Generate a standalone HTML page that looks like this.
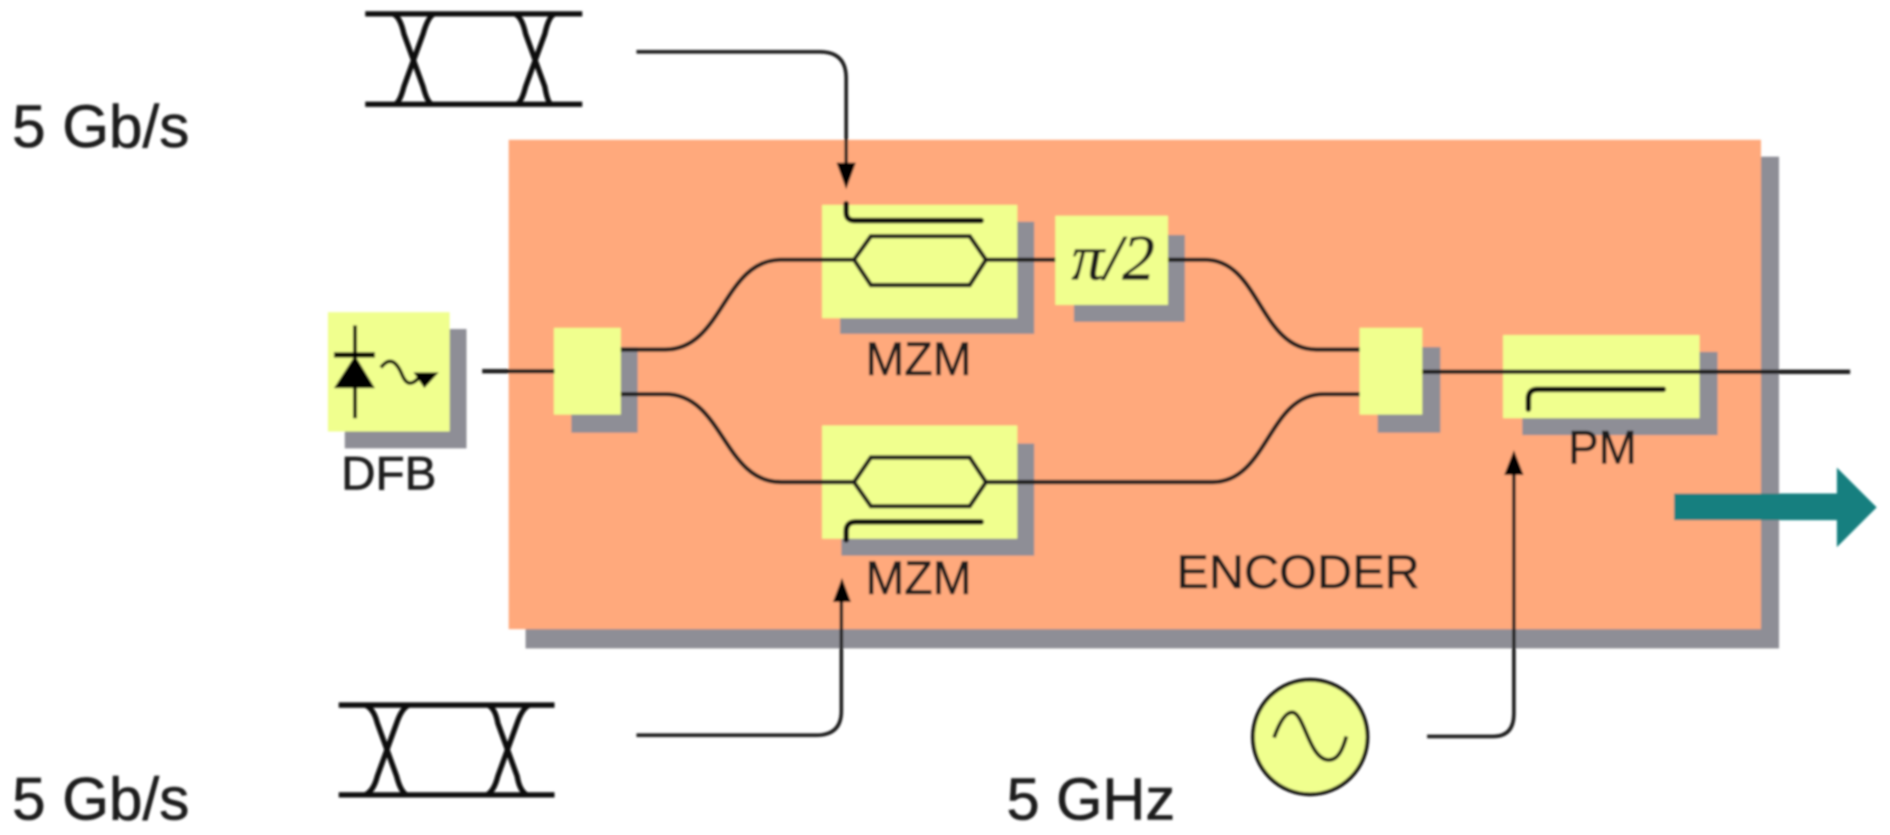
<!DOCTYPE html>
<html>
<head>
<meta charset="utf-8">
<style>
html,body{margin:0;padding:0;background:#fff;width:1890px;height:835px;overflow:hidden}
svg{display:block}
text{font-family:"Liberation Sans",sans-serif;fill:#1a1a1a;stroke:#1a1a1a;stroke-width:0.5}
</style>
</head>
<body>
<svg width="1890" height="835" viewBox="0 0 1568 692.8" xmlns="http://www.w3.org/2000/svg">
<defs><filter id="b" x="-2%" y="-2%" width="104%" height="104%"><feGaussianBlur stdDeviation="0.9"/></filter></defs>
<g filter="url(#b)">
<!-- encoder -->
<rect x="436" y="130" width="1040" height="408" fill="#8e8e96"/>
<rect x="422" y="116" width="1039" height="406" fill="#ffa97c"/>

<!-- DFB -->
<rect x="286" y="273" width="101" height="99" fill="#8e8e96"/>
<rect x="272" y="259" width="101" height="99" fill="#f0ff8e"/>
<path d="M294.5 270V347" stroke="#000" stroke-width="3.2" fill="none"/>
<path d="M277 294.5H311" stroke="#000" stroke-width="4.5" fill="none"/>
<path d="M294.5 295L311 322H277Z" fill="#000"/>
<path d="M316 305C324 294 330 302 334 312C338 321 343 318 347 314" stroke="#000" stroke-width="3" fill="none"/>
<path d="M343 309H364L352 322Z" fill="#000"/>
<text x="283" y="406" font-size="39" textLength="79" lengthAdjust="spacingAndGlyphs">DFB</text>

<!-- shadows -->
<rect x="474" y="288" width="55" height="71" fill="#8e8e96"/>
<rect x="697" y="184" width="161" height="93" fill="#8e8e96"/>
<rect x="698" y="368" width="160" height="93" fill="#8e8e96"/>
<rect x="891" y="195" width="92" height="72" fill="#8e8e96"/>
<rect x="1143" y="288" width="52" height="71" fill="#8e8e96"/>
<rect x="1263" y="292" width="162" height="69" fill="#8e8e96"/>

<!-- boxes -->
<rect x="459.5" y="272" width="55.5" height="72" fill="#f0ff8e"/>
<rect x="682" y="170" width="162" height="94" fill="#f0ff8e"/>
<rect x="682" y="353" width="162" height="94" fill="#f0ff8e"/>
<rect x="875.5" y="179" width="93.5" height="74" fill="#f0ff8e"/>
<rect x="1128" y="272" width="52" height="72" fill="#f0ff8e"/>
<rect x="1247" y="278" width="163" height="69" fill="#f0ff8e"/>

<!-- fibers -->
<g stroke="#1a1a1a" stroke-width="3.6" fill="none">
<path d="M400 308H460"/>
<path d="M515 290H552C600 290 600 215.5 648 215.5H708"/>
<path d="M515 327H552C600 327 600 400 648 400H708"/>
<path d="M708.5 215.5L722.5 196H804.5L818 215.5L804.5 236.5H722.5Z"/>
<path d="M708.5 400L722.5 379.5H804.5L818 400L804.5 420H722.5Z"/>
<path d="M818 215.5H875.5"/>
<path d="M969 215.5H1000C1045 215.5 1045 290 1092 290H1128"/>
<path d="M818 400H1006C1052 400 1052 327 1098 327H1128"/>
<path d="M1180 308.5H1535"/>
</g>

<!-- electrodes -->
<g stroke="#0a0a0a" stroke-width="4.6" fill="none" stroke-linecap="round">
<path d="M702 169V176Q702 183 709 183H814"/>
<path d="M702 448V441Q702 433 710 433H814"/>
<path d="M1268 339.5V331Q1268 323 1276 323H1380"/>
</g>

<!-- control arrows -->
<g stroke="#1a1a1a" stroke-width="3" fill="none">
<path d="M528 43H680Q702 43 702 65V140"/>
<path d="M528 610H677Q698 610 698 590V495"/>
<path d="M1184 611H1239Q1256 611 1256 592V390"/>
</g>
<path d="M694 135H710L702 157Z" fill="#000"/>
<path d="M691 499.5H706L698.5 479.5Z" fill="#000"/>
<path d="M1248 394H1264L1256 373.5Z" fill="#000"/>

<!-- labels -->
<text x="718" y="311" font-size="39" textLength="88" lengthAdjust="spacingAndGlyphs">MZM</text>
<text x="718" y="493" font-size="39" textLength="88" lengthAdjust="spacingAndGlyphs">MZM</text>
<text x="1301" y="384.5" font-size="39" textLength="57" lengthAdjust="spacingAndGlyphs">PM</text>
<text x="976" y="488" font-size="39.5" textLength="202" lengthAdjust="spacingAndGlyphs">ENCODER</text>
<text x="889" y="232" font-size="54" textLength="69" lengthAdjust="spacingAndGlyphs" style="font-family:'Liberation Serif',serif;font-style:italic">π/2</text>
<text x="10" y="122" font-size="50" textLength="147" lengthAdjust="spacingAndGlyphs">5 Gb/s</text>
<text x="10" y="680" font-size="50" textLength="147" lengthAdjust="spacingAndGlyphs">5 Gb/s</text>
<text x="835" y="680" font-size="49.5" textLength="140" lengthAdjust="spacingAndGlyphs">5 GHz</text>

<!-- eye top -->
<g stroke="#0a0a0a" stroke-width="4.4" fill="none">
<path d="M303 11.5H483M303 86.5H483"/>
<path d="M326 11.5Q332 14 335 28L351 72Q354 84 358 86.5"/>
<path d="M360 11.5Q355 14 351 28L335 72Q332 84 328 86.5"/>
<path d="M427 11.5Q433 14 436 28L452 72Q454 84 457 86.5"/>
<path d="M460 11.5Q455 14 452 28L436 72Q433 84 429 86.5"/>
</g>
<!-- eye bottom -->
<g stroke="#0a0a0a" stroke-width="4.4" fill="none">
<path d="M281 585H460M281 659.5H460"/>
<path d="M303 585Q310 588 313 600L329 644Q332 656 337 659.5"/>
<path d="M339 585Q333 588 329 600L313 644Q310 656 303 659.5"/>
<path d="M405 585Q411 588 413 600L429 644Q431 656 437 659.5"/>
<path d="M439 585Q433 588 429 600L413 644Q410 656 404 659.5"/>
</g>

<!-- oscillator -->
<circle cx="1087" cy="611.5" r="47.5" fill="#f0ff8e" stroke="#111" stroke-width="3.2"/>
<path d="M1057 612C1062 598 1067 591 1072 591C1082 591 1086 630 1102 630.5C1110 631 1114 622 1117 611" stroke="#111" stroke-width="3.2" fill="none"/>

<!-- teal arrow -->
<path d="M1389 409.5H1524V388L1557 421L1524 454V431.5H1389Z" fill="#147f7f"/>
</g>
</svg>
</body>
</html>
